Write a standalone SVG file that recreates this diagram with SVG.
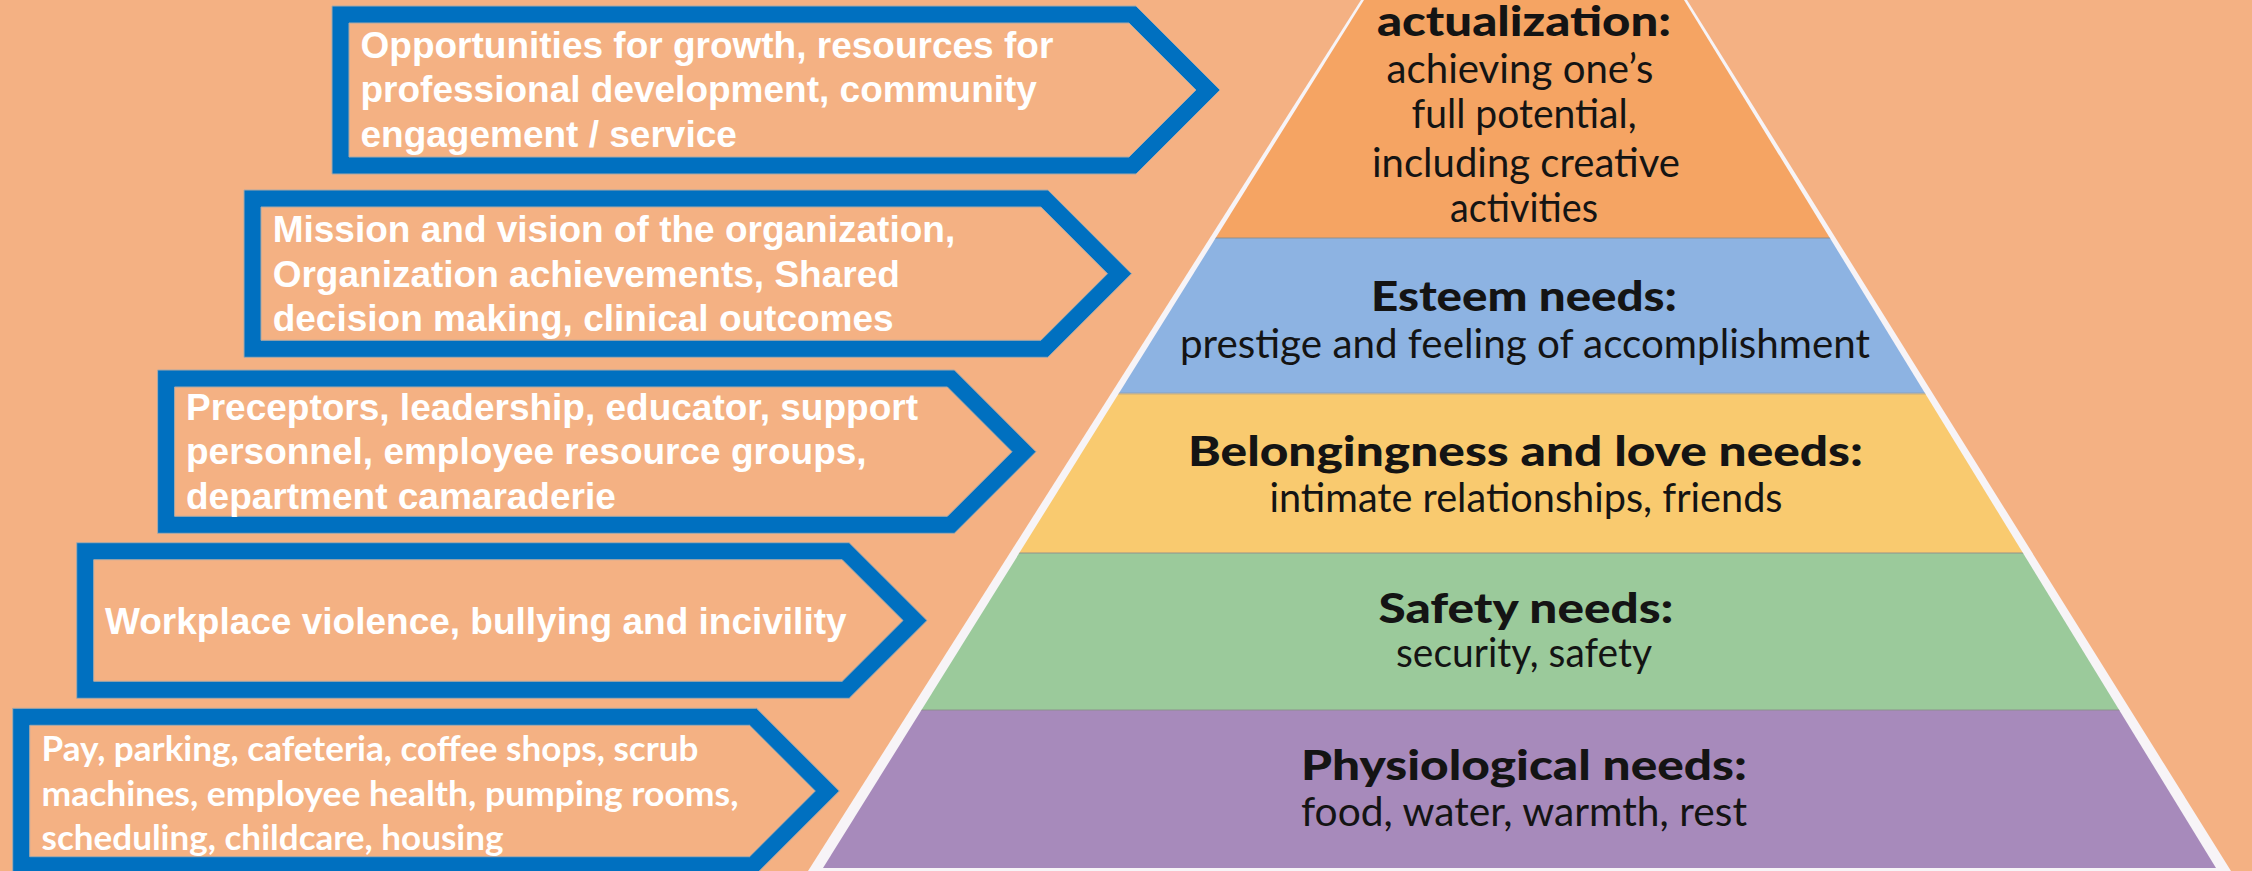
<svg xmlns="http://www.w3.org/2000/svg" width="2252" height="871" viewBox="0 0 2252 871">
  <defs>
    <style>
      .arrow-out { fill: #0070C0; stroke: #A8A8A8; stroke-width: 1; stroke-linejoin: miter; }
      .arrow-in { fill: #F4B183; stroke: #A8A8A8; stroke-width: 1; stroke-linejoin: miter; }
      .lbl { font-family: "Liberation Sans", Arial, sans-serif; font-weight: bold; font-size: 37px; fill: #FFFFFF; }
      .lbl-c { font-family: Lato, "Open Sans", sans-serif; font-weight: bold; font-size: 34px; fill: #FFFFFF; }
      .hd { font-family: Lato, "Noto Sans", sans-serif; font-weight: 900; font-size: 41px; fill: #141414; text-anchor: middle; }
      .sub { font-family: Lato, "Noto Sans", sans-serif; font-weight: normal; font-size: 41px; fill: #141414; text-anchor: middle; }
      .sep { stroke: #8C8C8C; stroke-opacity: 0.45; stroke-width: 2; }
    </style>
    <clipPath id="pyramid-clip">
      <polygon points="1364,0 1684,0 2216,868 823,868"/>
    </clipPath>
  </defs>

  <!-- page background -->
  <rect id="background" x="0" y="0" width="2252" height="871" fill="#F4B183"/>

  <!-- hierarchy pyramid -->
  <g id="pyramid">
    <polygon points="1361,0 1687,0 2231,871 808,871" fill="#F7F4F7"/>
    <g clip-path="url(#pyramid-clip)">
      <g id="level-self-actualization">
        <rect x="800" y="0" width="1450" height="238" fill="#F5A463"/>
        <text class="hd" x="1524" y="36" textLength="294" lengthAdjust="spacingAndGlyphs">actualization:</text>
        <text class="sub" x="1520" y="82.7" textLength="267" lengthAdjust="spacingAndGlyphs">achieving one’s</text>
        <text class="sub" x="1524" y="128.3" textLength="225" lengthAdjust="spacingAndGlyphs">full potential,</text>
        <text class="sub" x="1526" y="176.7" textLength="308" lengthAdjust="spacingAndGlyphs">including creative</text>
        <text class="sub" x="1524" y="221.7" textLength="148" lengthAdjust="spacingAndGlyphs">activities</text>
      </g>
      <g id="level-esteem">
        <rect x="800" y="238" width="1450" height="155.5" fill="#8DB3E2"/>
        <text class="hd" x="1524" y="311" textLength="306" lengthAdjust="spacingAndGlyphs">Esteem needs:</text>
        <text class="sub" x="1525" y="357.5" textLength="690" lengthAdjust="spacingAndGlyphs">prestige and feeling of accomplishment</text>
      </g>
      <g id="level-belonging">
        <rect x="800" y="393.5" width="1450" height="159.5" fill="#F9CA6F"/>
        <text class="hd" x="1525.5" y="466" textLength="675" lengthAdjust="spacingAndGlyphs">Belongingness and love needs:</text>
        <text class="sub" x="1526" y="511.7" textLength="513" lengthAdjust="spacingAndGlyphs">intimate relationships, friends</text>
      </g>
      <g id="level-safety">
        <rect x="800" y="553" width="1450" height="157" fill="#9BCA9B"/>
        <text class="hd" x="1526" y="623" textLength="295" lengthAdjust="spacingAndGlyphs">Safety needs:</text>
        <text class="sub" x="1524" y="667" textLength="256" lengthAdjust="spacingAndGlyphs">security, safety</text>
      </g>
      <g id="level-physiological">
        <rect x="800" y="710" width="1450" height="158" fill="#A78ABB"/>
        <text class="hd" x="1524" y="780" textLength="446" lengthAdjust="spacingAndGlyphs">Physiological needs:</text>
        <text class="sub" x="1524" y="826" textLength="446" lengthAdjust="spacingAndGlyphs">food, water, warmth, rest</text>
      </g>
      <line class="sep" x1="800" y1="238" x2="2250" y2="238"/>
      <line class="sep" x1="800" y1="393.5" x2="2250" y2="393.5"/>
      <line class="sep" x1="800" y1="553" x2="2250" y2="553"/>
      <line class="sep" x1="800" y1="710" x2="2250" y2="710"/>
    </g>
  </g>

  <!-- callout arrows, top to bottom -->
  <g id="callout-growth">
    <polygon class="arrow-out" points="332,6 1136,6 1220,90 1136,174 332,174"/>
    <polygon class="arrow-in" points="349,23 1129,23 1196,90 1129,157 349,157"/>
    <text class="lbl" x="360.5" y="58">Opportunities for growth, resources for</text>
    <text class="lbl" x="360.5" y="102.4">professional development, community</text>
    <text class="lbl" x="360.5" y="146.8">engagement / service</text>
  </g>

  <g id="callout-mission">
    <polygon class="arrow-out" points="244,190 1047.9,190 1131.5,273.7 1047.9,357.3 244,357.3"/>
    <polygon class="arrow-in" points="261,207 1040.9,207 1107.5,273.7 1040.9,340.3 261,340.3"/>
    <text class="lbl" x="272.7" y="241.7">Mission and vision of the organization,</text>
    <text class="lbl" x="272.7" y="286.5">Organization achievements, Shared</text>
    <text class="lbl" x="272.7" y="331.3">decision making, clinical outcomes</text>
  </g>

  <g id="callout-preceptors">
    <polygon class="arrow-out" points="157.6,370 954.4,370 1036,451.7 954.4,533.3 157.6,533.3"/>
    <polygon class="arrow-in" points="174.6,387 947.4,387 1012,451.7 947.4,516.3 174.6,516.3"/>
    <text class="lbl" x="186" y="420">Preceptors, leadership, educator, support</text>
    <text class="lbl" x="186" y="464.4">personnel, employee resource groups,</text>
    <text class="lbl" x="186" y="508.8">department camaraderie</text>
  </g>

  <g id="callout-workplace">
    <polygon class="arrow-out" points="76.7,542.7 849.2,542.7 927,620.5 849.2,698.3 76.7,698.3"/>
    <polygon class="arrow-in" points="93.7,559.7 842.2,559.7 903,620.5 842.2,681.3 93.7,681.3"/>
    <text class="lbl" x="105" y="634">Workplace violence, bullying and incivility</text>
  </g>

  <g id="callout-basics">
    <polygon class="arrow-out" points="12.7,708.3 756.6,708.3 839.3,791 756.6,873.7 12.7,873.7"/>
    <polygon class="arrow-in" points="29.7,725.3 749.6,725.3 815.3,791 749.6,856.7 29.7,856.7"/>
    <text class="lbl-c" x="41.5" y="761" textLength="657" lengthAdjust="spacingAndGlyphs">Pay, parking, cafeteria, coffee shops, scrub</text>
    <text class="lbl-c" x="41.5" y="805.5" textLength="697" lengthAdjust="spacingAndGlyphs">machines, employee health, pumping rooms,</text>
    <text class="lbl-c" x="41.5" y="850" textLength="462" lengthAdjust="spacingAndGlyphs">scheduling, childcare, housing</text>
  </g>
</svg>
